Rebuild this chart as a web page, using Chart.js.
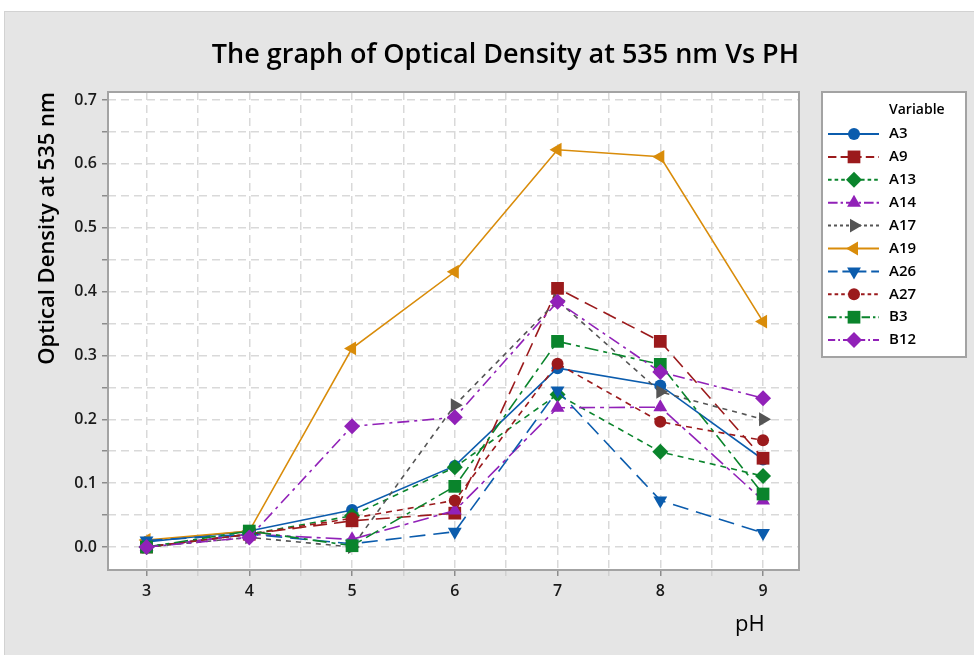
<!DOCTYPE html>
<html>
<head>
<meta charset="utf-8">
<script src="https://cdn.jsdelivr.net/npm/chart.js@4.4.1/dist/chart.umd.min.js"></script>
<style>
  html, body { margin: 0; padding: 0; background: #fff; }
  #panel {
    position: absolute; left: 4px; top: 11px; width: 970px; height: 644px;
    background: #e5e5e5; border-top: 1px solid #d2d2d2; border-left: 1px solid #d2d2d2;
    box-sizing: border-box;
  }
  #odChart { position: absolute; left: 0; top: 0; }
</style>
</head>
<body>
<div id="panel"><canvas id="odChart" width="969" height="643"></canvas></div>
<script>
// pH values on the x axis
var phValues = [3, 4, 5, 6, 7, 8, 9];
var xTickValues = [3, 3.5, 4, 4.5, 5, 5.5, 6, 6.5, 7, 7.5, 8, 8.5, 9];
var yTickValues = [0, 0.05, 0.1, 0.15, 0.2, 0.25, 0.3, 0.35, 0.4, 0.45, 0.5, 0.55, 0.6, 0.65, 0.7];

// optical density readings
var a3  = [0.008, 0.025, 0.058, 0.127, 0.280, 0.253, 0.137];
var a9  = [0.000, 0.020, 0.041, 0.053, 0.405, 0.322, 0.139];
var a13 = [0.000, 0.020, 0.049, 0.125, 0.239, 0.149, 0.111];
var a14 = [0.000, 0.020, 0.012, 0.057, 0.218, 0.219, 0.073];
var a17 = [0.000, 0.015, 0.000, 0.222, 0.386, 0.243, 0.200];
var a19 = [0.011, 0.025, 0.311, 0.431, 0.622, 0.611, 0.353];
var a26 = [0.010, 0.020, 0.005, 0.024, 0.245, 0.073, 0.022];
var a27 = [0.000, 0.020, 0.045, 0.073, 0.287, 0.196, 0.167];
var b3  = [0.000, 0.025, 0.002, 0.095, 0.322, 0.286, 0.083];
var b12 = [0.000, 0.015, 0.189, 0.203, 0.384, 0.274, 0.233];

var FONT = "'Open Sans', 'Noto Sans', sans-serif";
var BLUE = '#0b5cad', RED = '#9b1a1c', GREEN = '#0a842c', PURPLE = '#9121b8', GRAY = '#555555', ORANGE = '#d98c0a';

function series(label, values, color, dash, style, rot, radius) {
  return {
    label: label,
    data: values.map(function (v, i) { return { x: phValues[i], y: v }; }),
    borderColor: color,
    backgroundColor: color,
    borderWidth: 1.6,
    borderDash: dash,
    pointStyle: style,
    pointRotation: rot,
    pointRadius: radius,
    pointBorderWidth: 0,
    pointBackgroundColor: color,
    tension: 0
  };
}

var datasets = [
  series('A3',  a3,  BLUE,   [],             'circle',   0,   6),
  series('A9',  a9,  RED,    [14, 7],        'rect',     0,   9),
  series('A13', a13, GREEN,  [6, 5],         'rectRot',  0,   8),
  series('A14', a14, PURPLE, [16, 5, 4, 5],  'triangle', 0,   8),
  series('A17', a17, GRAY,   [5, 5],         'triangle', 90,  8),
  series('A19', a19, ORANGE, [],             'triangle', -90, 8),
  series('A26', a26, BLUE,   [16, 8],        'triangle', 180, 8),
  series('A27', a27, RED,    [6, 5],         'circle',   0,   6),
  series('B3',  b3,  GREEN,  [14, 5, 4, 5],  'rect',     0,   9),
  series('B12', b12, PURPLE, [12, 5, 3, 5],  'rectRot',  0,   8)
];
// later series drawn on top (like the original)
datasets.forEach(function (d, i) { d.order = datasets.length - i; });

// white plot area + frame
var plotFrame = {
  id: 'plotFrame',
  beforeDraw: function (chart) {
    var a = chart.chartArea, ctx = chart.ctx;
    ctx.save();
    ctx.fillStyle = '#ffffff';
    ctx.fillRect(a.left, a.top, a.right - a.left, a.bottom - a.top);
    ctx.restore();
  },
  beforeDatasetsDraw: function (chart) {
    var a = chart.chartArea, ctx = chart.ctx;
    ctx.save();
    ctx.strokeStyle = '#a3a3a3';
    ctx.lineWidth = 2;
    ctx.strokeRect(a.left, a.top, a.right - a.left, a.bottom - a.top);
    ctx.restore();
  }
};

// Minitab style legend box on the right
var sideLegend = {
  id: 'sideLegend',
  afterDraw: function (chart) {
    var ctx = chart.ctx;
    var bx = 817, by = 80, bw = 144, bh = 265;
    ctx.save();
    ctx.fillStyle = '#ffffff';
    ctx.fillRect(bx, by, bw, bh);
    ctx.strokeStyle = '#a3a3a3';
    ctx.lineWidth = 2;
    ctx.strokeRect(bx, by, bw, bh);

    ctx.fillStyle = '#000';
    ctx.textBaseline = 'middle';
    ctx.textAlign = 'left';
    ctx.font = "600 14px " + FONT;
    ctx.fillText('Variable', 884, 98);

    chart.data.datasets.forEach(function (ds, i) {
      var y = 122 + i * 22.9;
      ctx.strokeStyle = ds.borderColor;
      ctx.lineWidth = 2;
      ctx.setLineDash(ds.borderDash.map(function (v) { return v * 0.6; }));
      ctx.beginPath();
      ctx.moveTo(823, y);
      ctx.lineTo(874, y);
      ctx.stroke();
      ctx.setLineDash([]);
      ctx.fillStyle = ds.borderColor;
      Chart.helpers.drawPoint(ctx, {
        pointStyle: ds.pointStyle,
        rotation: ds.pointRotation,
        radius: ds.pointRadius,
        borderWidth: 0
      }, 849, y);
      ctx.fillStyle = '#000';
      ctx.font = "600 15px " + FONT;
      ctx.fillText(ds.label, 884, y);
    });
    ctx.restore();
  }
};

var ctx = document.getElementById('odChart').getContext('2d');
new Chart(ctx, {
  type: 'line',
  data: { datasets: datasets },
  plugins: [plotFrame, sideLegend],
  options: {
    responsive: false,
    animation: false,
    devicePixelRatio: 1,
    layout: { padding: { left: 0, right: 175, top: 0, bottom: 0 } },
    plugins: {
      legend: { display: false },
      tooltip: { enabled: false },
      title: {
        display: true,
        text: 'The graph of Optical Density at 535 nm Vs PH',
        align: 'end',
        color: '#000',
        font: { family: FONT, size: 27, weight: '600' },
        padding: { top: 27, bottom: 20.6 }
      }
    },
    scales: {
      x: {
        type: 'linear',
        min: 2.625,
        max: 9.35,
        afterBuildTicks: function (scale) {
          scale.ticks = xTickValues.map(function (v) { return { value: v }; });
        },
        afterFit: function (scale) { scale.height = 85; },
        border: { display: false, dash: [8, 5] },
        grid: {
          color: '#d9d9d9',
          lineWidth: 1.5,
          tickLength: 6,
          tickBorderDash: [],
          tickColor: function (c) {
            return c.tick && Number.isInteger(c.tick.value) ? '#8c8c8c' : '#d0d0d0';
          }
        },
        ticks: {
          color: '#1a1a1a',
          padding: 6,
          maxRotation: 0,
          autoSkip: false,
          font: { family: FONT, size: 16, weight: '600' },
          callback: function (v) { return Number.isInteger(v) ? String(v) : ''; }
        },
        title: {
          display: true,
          text: 'pH      ',
          align: 'end',
          color: '#000',
          font: { family: FONT, size: 22 },
          padding: { top: 0, bottom: 17 }
        }
      },
      y: {
        type: 'linear',
        min: -0.036,
        max: 0.7125,
        afterBuildTicks: function (scale) {
          scale.ticks = yTickValues.map(function (v) { return { value: v }; });
        },
        afterFit: function (scale) { scale.width = 103; },
        border: { display: false, dash: [8, 5] },
        grid: {
          color: '#d9d9d9',
          lineWidth: 1.5,
          tickLength: 6,
          tickBorderDash: [],
          tickColor: '#8c8c8c'
        },
        ticks: {
          color: '#1a1a1a',
          padding: 5,
          autoSkip: false,
          font: { family: FONT, size: 16, weight: '600' },
          callback: function (v) {
            var r = Math.round(v * 100);
            return r % 10 === 0 ? (r / 100).toFixed(1) : '';
          }
        },
        title: {
          display: true,
          text: 'Optical Density at 535 nm',
          align: 'end',
          color: '#000',
          font: { family: FONT, size: 22, weight: '600' },
          padding: { top: 30, bottom: 0 }
        }
      }
    }
  }
});
</script>
</body>
</html>
